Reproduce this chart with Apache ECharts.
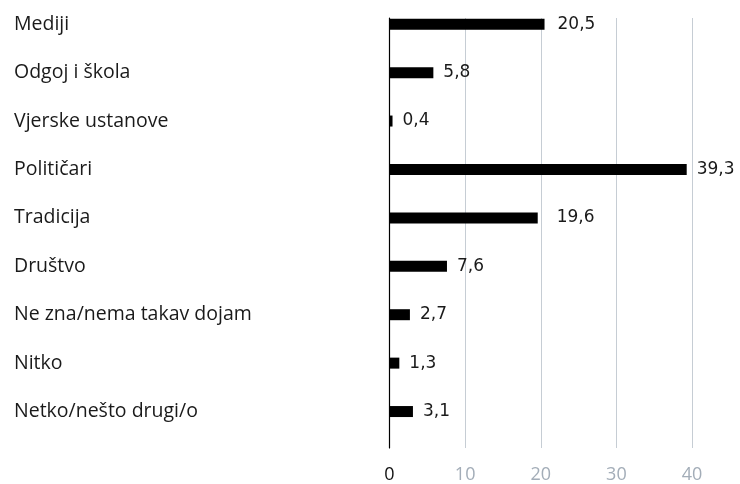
<!DOCTYPE html>
<html>
<head>
<meta charset="utf-8">
<script src="https://cdn.jsdelivr.net/npm/echarts@6/dist/echarts.min.js"></script>
<style>
html,body{margin:0;padding:0;background:#fff;}
#chart{width:740px;height:484px;}
</style>
</head>
<body>
<div id="chart"></div>
<script>
const categories = ['Mediji','Odgoj i škola','Vjerske ustanove','Političari','Tradicija','Društvo','Ne zna/nema takav dojam','Nitko','Netko/nešto drugi/o'];
const values = [20.5, 5.8, 0.4, 39.3, 19.6, 7.6, 2.7, 1.3, 3.1];
const axisMin = 0, axisMax = 40, axisStep = 10;

const extraLabelShift = { 'Mediji': 3, 'Tradicija': 9 };

const chart = echarts.init(document.getElementById('chart'));
const fmt = v => String(v).replace('.', ',');

chart.setOption({
  animation: false,
  grid: [
    { left: 389.5, width: 302.5, top: -0.75, height: 436.5 },
    { left: 389.5, width: 302.5, top: 18, height: 436 }
  ],
  xAxis: [
    { gridIndex: 0, type: 'value', min: axisMin, max: axisMax, interval: axisStep, show: false },
    { gridIndex: 1, type: 'value', min: axisMin, max: axisMax, interval: axisStep,
      axisLine: { show: false }, axisTick: { show: false },
      splitLine: { show: true, showMinLine: false, lineStyle: { color: '#c6cdd4', width: 1 } },
      axisLabel: { margin: 18, fontFamily: 'Open Sans', fontSize: 18,
        color: (v) => (Number(v) === 0 ? '#111111' : '#a3adb8') } }
  ],
  yAxis: [
    { gridIndex: 0, type: 'category', data: categories, inverse: true,
      axisLine: { show: false }, axisTick: { show: false }, splitLine: { show: false },
      axisLabel: { align: 'left', margin: 375.5, fontFamily: 'Open Sans', fontSize: 19.5,
        color: '#1a1a1a', padding: [0, 0, 3, 0] } },
    { gridIndex: 1, type: 'value', min: 0, max: 1,
      axisLine: { show: true, lineStyle: { color: '#000000', width: 1.2 } },
      axisTick: { show: false }, axisLabel: { show: false }, splitLine: { show: false } }
  ],
  series: [{
    type: 'bar',
    xAxisIndex: 0, yAxisIndex: 0,
    barWidth: 11,
    itemStyle: { color: '#000000' },
    data: values.map((v, i) => ({
      value: v,
      label: { offset: [extraLabelShift[categories[i]] || 0, 0] }
    })),
    label: {
      show: true, position: 'right', distance: 10,
      fontFamily: 'DejaVu Sans', fontSize: 17, color: '#1a1a1a',
      formatter: p => fmt(p.value)
    }
  }]
});
</script>
</body>
</html>
